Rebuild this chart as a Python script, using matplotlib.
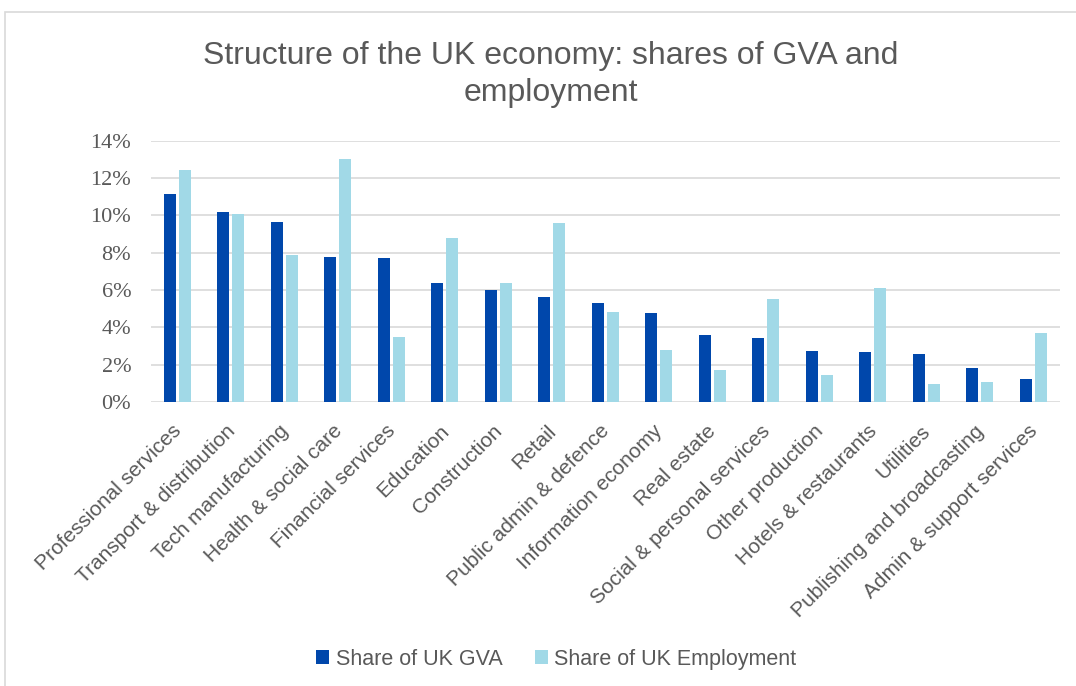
import matplotlib.pyplot as plt
import matplotlib.transforms as mtransforms
import numpy as np
from matplotlib.patches import Rectangle

# Sectors and shares (%)
sectors = ["Professional services", "Transport & distribution", "Tech manufacturing",
           "Health & social care", "Financial services", "Education", "Construction",
           "Retail", "Public admin & defence", "Information economy", "Real estate",
           "Social & personal services", "Other production", "Hotels & restaurants",
           "Utilities", "Publishing and broadcasting", "Admin & support services"]
gva_share = [11.15, 10.17, 9.65, 7.78, 7.72, 6.37, 6.01, 5.64, 5.30, 4.76,
             3.58, 3.44, 2.73, 2.66, 2.57, 1.80, 1.25]
emp_share = [12.43, 10.09, 7.88, 13.02, 3.50, 8.76, 6.37, 9.60, 4.83, 2.78,
             1.73, 5.53, 1.44, 6.12, 0.98, 1.09, 3.71]
yticks = [0, 2, 4, 6, 8, 10, 12, 14]

dark_blue = "#0047AB"
light_blue = "#A1D9E7"
text_grey = "#595959"

fig = plt.figure(figsize=(10.76, 6.86), dpi=100)
ax = fig.add_axes([0.140, 0.414, 0.845, 0.381])

# outer chart border
fig.patches.append(Rectangle((0.005, -0.01), 1.2, 0.992, transform=fig.transFigure,
                             fill=False, edgecolor="#d9d9d9", linewidth=1.2))

x = np.arange(len(sectors))
w = 0.224
ax.bar(x - 0.14, gva_share, w, color=dark_blue, label="Share of UK GVA", zorder=3)
ax.bar(x + 0.14, emp_share, w, color=light_blue, label="Share of UK Employment", zorder=3)

ax.set_xlim(-0.5, len(sectors) - 0.5)
ax.set_ylim(0, 14)
ax.set_yticks(yticks)
ax.set_yticklabels([f"{t}%" for t in yticks], family="Liberation Serif",
                   fontsize=16, color=text_grey)
ax.grid(axis="y", color="#d9d9d9", linewidth=1.2, zorder=0)
for s in ["top", "right", "left", "bottom"]:
    ax.spines[s].set_visible(False)
ax.tick_params(length=0)
ax.tick_params(axis="y", pad=14)

ax.set_xticks(x)
ax.set_xticklabels(sectors, rotation=45, ha="right", rotation_mode="anchor",
                   family="Liberation Sans", fontsize=15, color=text_grey)
ax.tick_params(axis="x", pad=14)
shift = mtransforms.ScaledTranslation(-4 / 72, 0, fig.dpi_scale_trans)
for lbl in ax.get_xticklabels():
    lbl.set_transform(lbl.get_transform() + shift)

fig.text(0.512, 0.892, "Structure of the UK economy: shares of GVA and\nemployment",
         ha="center", va="center", family="Liberation Sans", fontsize=23,
         color=text_grey, linespacing=1.3)

fig.legend(loc="center", bbox_to_anchor=(0.517, 0.039), ncol=2, frameon=False,
           prop={"family": "Liberation Sans", "size": 15.5}, labelcolor=text_grey,
           handlelength=0.6, handleheight=0.6, handletextpad=0.3, columnspacing=1.5)

fig.savefig("out.png", dpi=100)
